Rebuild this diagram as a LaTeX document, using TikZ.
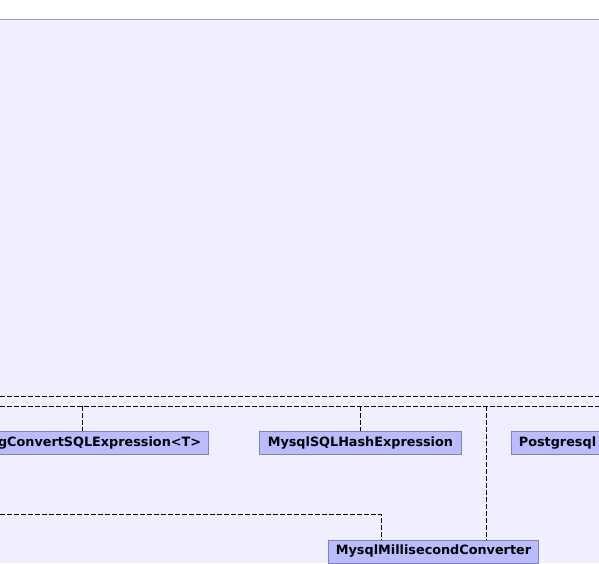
\documentclass[tikz,border=0pt]{standalone}
\usepackage{fontspec}
\setmainfont{DejaVu Sans}
\definecolor{GraphBack}{RGB}{239,239,255}
\definecolor{TopRule}{RGB}{160,160,176}
\definecolor{BoxFill}{RGB}{187,187,255}
\definecolor{BoxLine}{RGB}{130,130,186}
\usetikzlibrary{positioning}
\begin{document}
\begin{tikzpicture}[x=1pt,y=-1pt,
      cls/.style={draw=BoxLine,fill=BoxFill,line width=0.8pt,minimum height=23pt,
                  inner xsep=7.5pt,inner ysep=0pt,font=\bfseries\fontsize{12.8}{14}\selectfont},
      dep/.style={dash pattern=on 5pt off 2pt,line width=0.9pt,black}]
    \useasboundingbox (0,0) rectangle (599,563);
    \clip (0,0) rectangle (599,563);
    \fill[GraphBack] (0,20) rectangle (599,563);
    \draw[TopRule,line width=1pt] (0,19.5) -- (599,19.5);
    % classes
    \node[cls,anchor=east,text width=300pt,align=right] (pgconv) at (209,443) {gConvertSQLExpression<T>};
    \node[cls,anchor=west,minimum width=202pt] (myhash) at (259,443) {MysqlSQLHashExpression};
    \node[cls,anchor=west,text width=200pt,align=left] (pgother) at (511,443) {Postgresql};
    \node[cls,anchor=west,minimum width=210pt] (mymilli) at (328,551.5) {MysqlMillisecondConverter};
    % dependency lines
    \coordinate (upL) at (0,396);   \coordinate (upR) at (599,396);
    \coordinate (loL) at (0,406);   \coordinate (loR) at (599,406);
    \coordinate (mdL) at (0,514);
    \draw[dep] (upL) -- (upR);
    \draw[dep] (loL) -- (loR);
    \draw[dep] (82,406) -- (82,0 |- pgconv.north);
    \draw[dep] (360,406) -- (360,0 |- myhash.north);
    \draw[dep] (486,406) -- (486,0 |- mymilli.north);
    \draw[dep] (mdL) -- (381,514) -- (381,0 |- mymilli.north);
  \end{tikzpicture}
\end{document}
